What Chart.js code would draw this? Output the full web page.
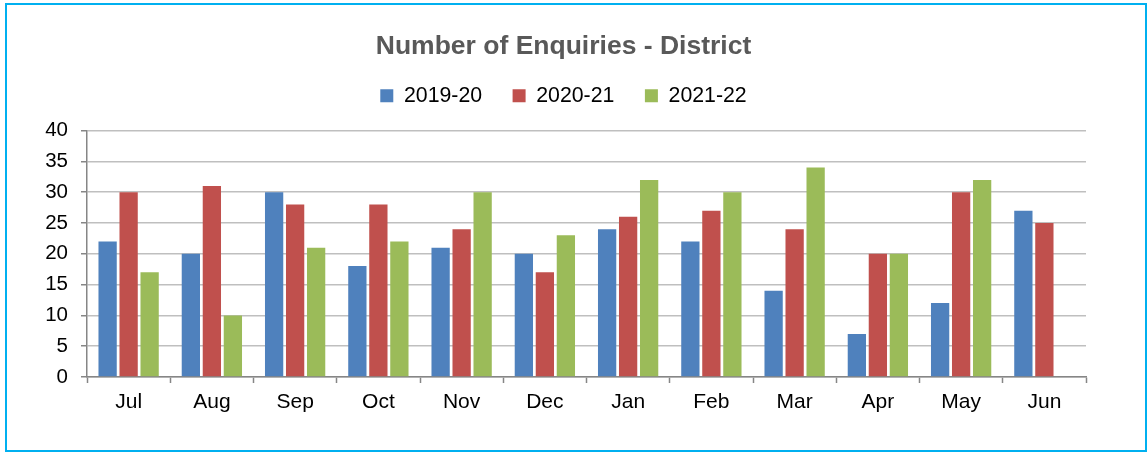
<!DOCTYPE html>
<html>
<head>
<meta charset="utf-8">
<script src="https://cdn.jsdelivr.net/npm/chart.js@4"></script>
<style>
  html, body { margin: 0; padding: 0; background: #ffffff; }
  #wrap { position: relative; width: 1147px; height: 455px; }
  #frame { position: absolute; left: 5px; top: 3px; width: 1138px; height: 445px; border: 2px solid #00B0F0; pointer-events: none; }
  canvas { position: absolute; left: 0; top: 0; }
</style>
</head>
<body>
<div id="wrap">
  <canvas id="c" width="1147" height="455"></canvas>
  <div id="frame"></div>
</div>
<script>
const categories = ['Jul', 'Aug', 'Sep', 'Oct', 'Nov', 'Dec', 'Jan', 'Feb', 'Mar', 'Apr', 'May', 'Jun'];
const seriesNames = ['2019-20', '2020-21', '2021-22'];
const values2019 = [22, 20, 30, 18, 21, 20, 24, 22, 14, 7, 12, 27];
const values2020 = [30, 31, 28, 28, 24, 17, 26, 27, 24, 20, 30, 25];
const values2021 = [17, 10, 21, 22, 30, 23, 32, 30, 34, 20, 32, null];
const yTicks = [0, 5, 10, 15, 20, 25, 30, 35, 40];
const seriesColors = ['#4F81BD', '#C0504D', '#9BBB59'];

const FONT = "Arial, 'Liberation Sans', sans-serif";

new Chart(document.getElementById('c'), {
  type: 'bar',
  data: {
    labels: categories,
    datasets: [values2019, values2020, values2021].map((vals, i) => ({
      label: seriesNames[i],
      data: vals,
      backgroundColor: seriesColors[i],
      borderWidth: 0,
      categoryPercentage: 0.757,
      barPercentage: 0.87
    }))
  },
  options: {
    responsive: false,
    animation: false,
    devicePixelRatio: 1,
    layout: { padding: { left: 41, right: 61, top: 0, bottom: 0 } },
    plugins: {
      title: {
        display: true,
        text: 'Number of Enquiries - District',
        color: '#595959',
        font: { family: FONT, size: 26.5, weight: 'bold', lineHeight: 1.2 },
        padding: { top: 31, bottom: -8.3 }
      },
      subtitle: {
        display: true,
        text: '',
        weight: 500,
        font: { family: FONT, size: 10, lineHeight: 1 },
        padding: { top: 4.3, bottom: 0 }
      },
      legend: {
        display: true,
        position: 'top',
        labels: {
          boxWidth: 13,
          boxHeight: 13,
          padding: 30.5,
          color: '#000000',
          font: { family: FONT, size: 21.3 }
        }
      },
      tooltip: { enabled: false }
    },
    scales: {
      x: {
        offset: true,
        grid: {
          offset: true,
          drawOnChartArea: false,
          drawTicks: true,
          tickLength: 6,
          tickColor: '#868686',
          tickWidth: 1.5
        },
        border: { display: true, color: '#868686', width: 1.5 },
        ticks: {
          color: '#000000',
          padding: 7,
          maxRotation: 0,
          autoSkip: false,
          font: { family: FONT, size: 21 }
        },
        afterFit: (s) => { s.height = 78; }
      },
      y: {
        min: 0,
        max: 40,
        afterBuildTicks: (s) => { s.ticks = yTicks.map(v => ({ value: v })); },
        grid: {
          color: '#BFBFBF',
          lineWidth: 1.5,
          drawTicks: true,
          tickLength: 6,
          tickColor: '#868686',
          tickWidth: 1.5
        },
        border: { display: true, color: '#868686', width: 1.5 },
        ticks: {
          color: '#000000',
          padding: 13,
          autoSkip: false,
          font: { family: FONT, size: 20.5 }
        },
        afterFit: (s) => { s.width = 46; }
      }
    }
  }
});
</script>
</body>
</html>
